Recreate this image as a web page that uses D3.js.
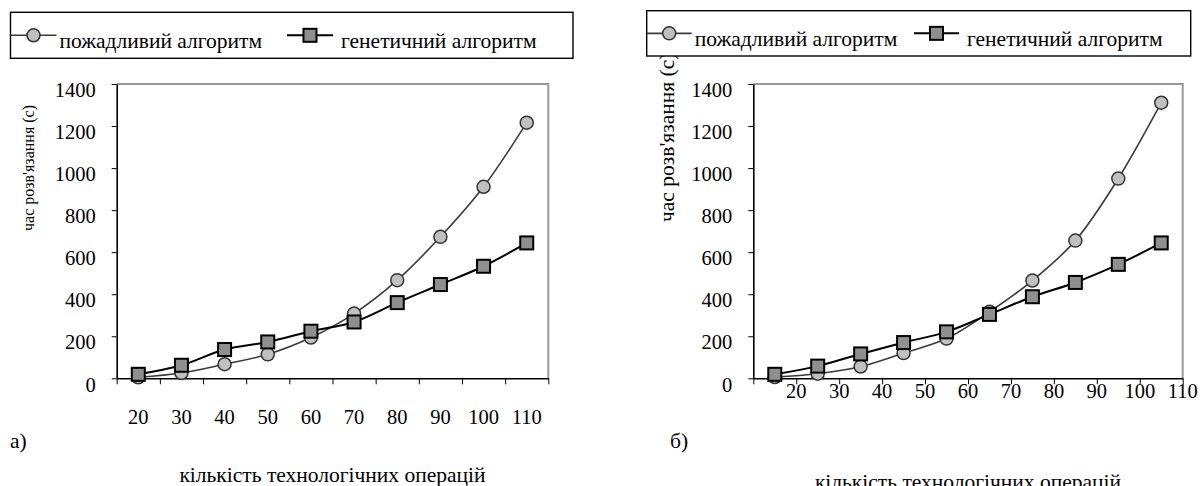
<!DOCTYPE html>
<html>
<head>
<meta charset="utf-8">
<script src="https://cdn.jsdelivr.net/npm/d3@7"></script>
<style>
body { margin: 0; background: #fff; }
svg text { font-family: "Liberation Serif", "Times New Roman", serif !important; fill: #000; }
</style>
</head>
<body>
<script>
// кількість технологічних операцій
const ops = [20, 30, 40, 50, 60, 70, 80, 90, 100, 110]
const y_ticks = [0, 200, 400, 600, 800, 1000, 1200, 1400]
const series_names = ["пожадливий алгоритм", "генетичний алгоритм"]

// a)
const greedy_a = [5, 25, 67, 114, 194, 308, 467, 673, 911, 1216]
const genetic_a = [19, 62, 137, 173, 224, 268, 360, 446, 533, 644]
// б)
const greedy_b = [6, 22, 56, 120, 189, 316, 465, 655, 950, 1311]
const genetic_b = [19, 58, 116, 170, 221, 304, 388, 456, 542, 644]

const width = 1204
const height = 486
const serif = "'Liberation Serif', 'Times New Roman', serif"
const circle_fill = "#c0c0c0"
const square_fill = "#8f8f8f"
const greedy_line = "#3a3a3a"

var svg = d3.select("body").append("svg")
    .attr("width", width)
    .attr("height", height)

svg.append("rect").attr("width", width).attr("height", height).style("fill", "#fff")

function label(sel, size) {
    return sel.style("font-family", serif).style("font-size", size + "px").style("fill", "#000")
}

function panel(p) {
    var x = d3.scaleBand().domain(ops).range([p.left, p.right])
    var xt = d3.scaleLinear().domain([0, ops.length]).range([p.left, p.right])
    var y = d3.scaleLinear().domain([0, 1400]).range([p.bottom, p.top])
    var cx = d => x(d) + x.bandwidth() / 2

    // grey frame (top + right)
    svg.append("path")
        .attr("d", `M${p.left},${y(1400)}H${p.right}V${p.bottom}`)
        .style("fill", "none").style("stroke", "#999").style("stroke-width", 2)

    // y axis
    var gy = svg.append("g").attr("transform", `translate(${p.left},0)`)
        .call(d3.axisLeft(y).tickValues(y_ticks).tickFormat(d3.format("d"))
            .tickSize(5).tickSizeOuter(0).tickPadding(16))
    gy.attr("font-family", null).attr("font-size", null)
    gy.select(".domain").style("stroke", "#000").style("stroke-width", 1.6)
    gy.selectAll(".tick line").style("stroke", "#000")
    label(gy.selectAll(".tick text"), 20.5).attr("dy", "0.62em")

    // x axis (ticks between categories)
    var gx = svg.append("g").attr("transform", `translate(0,${p.bottom})`)
        .call(d3.axisBottom(xt).tickValues(d3.range(0, ops.length + 1)).tickSize(6).tickSizeOuter(0).tickFormat(""))
    gx.select(".domain").style("stroke", "#000").style("stroke-width", 1.6)
    gx.selectAll(".tick line").style("stroke", "#000")

    label(svg.append("g").selectAll("text").data(ops).join("text")
        .attr("x", d => p.label_at_end ? x(d) + x.bandwidth() : cx(d))
        .attr("y", p.xlab_y)
        .attr("dy", "0.35em")
        .attr("text-anchor", "middle")
        .text(d => d), 20.5)

    // lines
    var line = d3.line().x((d, i) => cx(ops[i])).y(d => y(d)).curve(d3.curveCatmullRom.alpha(0.5))

    svg.append("path").datum(p.greedy).attr("d", line)
        .style("fill", "none").style("stroke", greedy_line).style("stroke-width", 1.6)
    svg.append("g").selectAll("circle").data(p.greedy).join("circle")
        .attr("cx", (d, i) => cx(ops[i])).attr("cy", d => y(d)).attr("r", 6.5)
        .style("fill", circle_fill).style("stroke", "#333").style("stroke-width", 1.5)

    svg.append("path").datum(p.genetic).attr("d", line)
        .style("fill", "none").style("stroke", "#000").style("stroke-width", 2)
    svg.append("g").selectAll("rect").data(p.genetic).join("rect")
        .attr("x", (d, i) => cx(ops[i]) - 6.5).attr("y", d => y(d) - 6.5)
        .attr("width", 13).attr("height", 13)
        .style("fill", square_fill).style("stroke", "#000").style("stroke-width", 2)

    // titles
    label(svg.append("text")
        .attr("transform", `translate(${p.ytitle_x},${p.ytitle_y}) rotate(-90)`)
        .attr("dy", "0.35em")
        .text("час розв'язання (с)"), p.ytitle_size)

    label(svg.append("text")
        .attr("x", (p.left + p.right) / 2).attr("y", p.xtitle_y).attr("dy", "0.35em")
        .attr("text-anchor", "middle")
        .text("кількість технологічних операцій"), 21.5)

    label(svg.append("text")
        .attr("x", p.tag_x).attr("y", 440).attr("dy", "0.35em")
        .text(p.tag), 21.5)

    // legend
    var lg = p.legend
    var mid = (lg.top + lg.bottom) / 2
    svg.append("rect")
        .attr("x", lg.left).attr("y", lg.top)
        .attr("width", lg.right - lg.left).attr("height", lg.bottom - lg.top)
        .style("fill", "#fff").style("stroke", "#000").style("stroke-width", 1.4)

    svg.append("line").attr("x1", lg.x1).attr("x2", lg.x1 + lg.len).attr("y1", mid).attr("y2", mid)
        .style("stroke", greedy_line).style("stroke-width", 1.6)
    svg.append("circle").attr("cx", lg.x1 + lg.len / 2).attr("cy", mid).attr("r", 6.5)
        .style("fill", circle_fill).style("stroke", "#333").style("stroke-width", 1.5)
    label(svg.append("text").attr("x", lg.x1 + lg.len + 3).attr("y", mid + 13)
        .text(series_names[0]), 21.5)

    svg.append("line").attr("x1", lg.x2).attr("x2", lg.x2 + lg.len).attr("y1", mid).attr("y2", mid)
        .style("stroke", "#000").style("stroke-width", 2)
    svg.append("rect").attr("x", lg.x2 + lg.len / 2 - 6.5).attr("y", mid - 6.5)
        .attr("width", 13).attr("height", 13)
        .style("fill", square_fill).style("stroke", "#000").style("stroke-width", 2)
    label(svg.append("text").attr("x", lg.x2 + lg.len + 8).attr("y", mid + 13)
        .text(series_names[1]), 21.5)
}

panel({
    left: 116.7, right: 548.3, top: 84, bottom: 378.3,
    greedy: greedy_a, genetic: genetic_a,
    xlab_y: 417, label_at_end: false,
    ytitle_x: 28, ytitle_y: 231, ytitle_size: 16,
    xtitle_y: 474, tag: "а)", tag_x: 10,
    legend: { left: 10.5, right: 573, top: 12.3, bottom: 58.3, x1: 10.5, x2: 287, len: 46 }
})

panel({
    left: 753.3, right: 1182.7, top: 84, bottom: 378.3,
    greedy: greedy_b, genetic: genetic_b,
    xlab_y: 391, label_at_end: true,
    ytitle_x: 666, ytitle_y: 222, ytitle_size: 21.5,
    xtitle_y: 481, tag: "б)", tag_x: 670,
    legend: { left: 646.7, right: 1190.7, top: 10.7, bottom: 56, x1: 646.7, x2: 914, len: 45 }
})
</script>
</body>
</html>
